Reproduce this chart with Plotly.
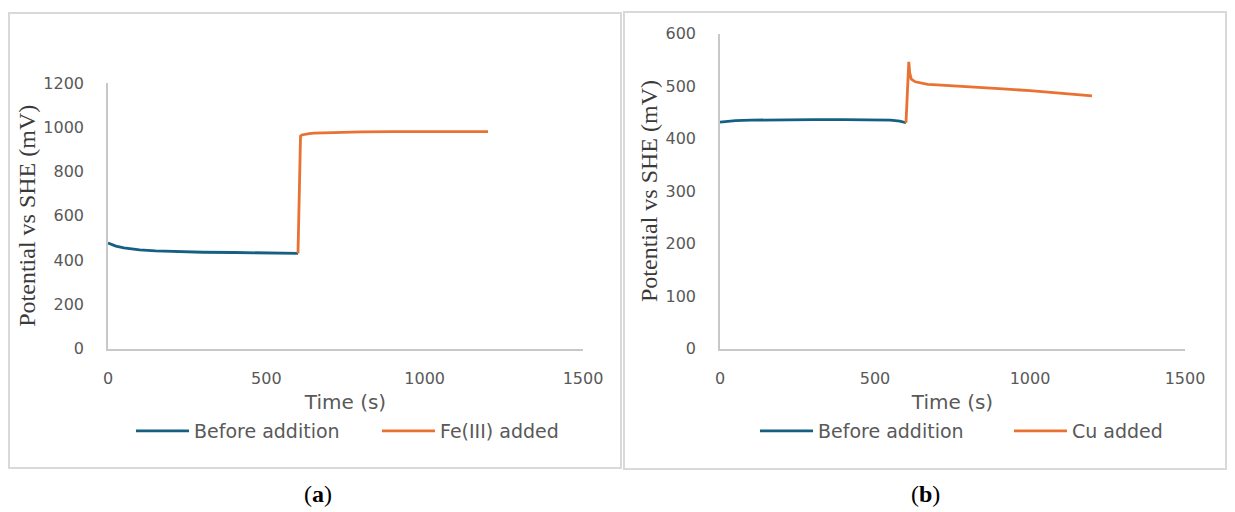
import plotly.graph_objects as go

# ---- data ----
# Panel (a): Fe(III)
a_before_t = [0, 10, 25, 50, 75, 100, 150, 200, 300, 400, 500, 560, 600]
a_before_v = [477, 471, 463, 455, 450, 446, 441, 438, 435, 434, 433, 432, 430]
a_after_t = [600, 603, 606, 608, 612, 620, 635, 650, 700, 800, 900, 1000, 1100, 1200]
a_after_v = [430, 600, 850, 960, 965, 968, 971, 973, 976, 979, 980, 980, 980, 980]

# Panel (b): Cu
b_before_t = [0, 25, 50, 100, 200, 300, 400, 500, 550, 580, 600]
b_before_v = [431, 433, 434, 435, 436, 436, 436, 436, 435, 433, 430]
b_after_t = [600, 603, 606, 609, 612, 617, 630, 650, 670, 700, 800, 900, 1000, 1100, 1200]
b_after_v = [430, 480, 530, 546, 525, 513, 508, 505, 503, 502, 499, 495, 491, 486, 481]

x_ticks = [0, 500, 1000, 1500]
a_y_ticks = [0, 200, 400, 600, 800, 1000, 1200]
b_y_ticks = [0, 100, 200, 300, 400, 500, 600]

BLUE = "#156082"
ORANGE = "#E97132"
W, H = 1235, 512


def px_x(p):
    return p / W


def px_y(p):
    return 1 - p / H


fig = go.Figure()
fig.add_trace(go.Scatter(x=a_before_t, y=a_before_v, mode="lines", name="Before addition",
                         line=dict(color=BLUE, width=2.8), xaxis="x", yaxis="y", legend="legend"))
fig.add_trace(go.Scatter(x=a_after_t, y=a_after_v, mode="lines", name="Fe(III) added",
                         line=dict(color=ORANGE, width=2.8), xaxis="x", yaxis="y", legend="legend2"))
fig.add_trace(go.Scatter(x=b_before_t, y=b_before_v, mode="lines", name="Before addition",
                         line=dict(color=BLUE, width=2.8), xaxis="x2", yaxis="y2", legend="legend3"))
fig.add_trace(go.Scatter(x=b_after_t, y=b_after_v, mode="lines", name="Cu added",
                         line=dict(color=ORANGE, width=2.8), xaxis="x2", yaxis="y2", legend="legend4"))

tick_font = dict(family="DejaVu Sans", size=16, color="#595959")
xtitle_font = dict(family="DejaVu Sans", size=20, color="#595959")
ytitle_font = dict(family="Liberation Serif", size=24, color="#3a3a3a")
legend_font = dict(family="DejaVu Sans", size=19, color="#595959")
axis_common = dict(showgrid=False, zeroline=False, showline=True, linecolor="#c8c8c8",
                   linewidth=1.5, ticks="", tickfont=tick_font, fixedrange=True,
                   automargin=False)


def legend_at(x_px):
    return dict(orientation="h", x=px_x(x_px), y=px_y(431), xanchor="left", yanchor="middle",
                font=legend_font, itemwidth=53, bgcolor="rgba(0,0,0,0)")


fig.update_layout(
    width=W, height=H, margin=dict(l=0, r=0, t=0, b=0, autoexpand=False),
    paper_bgcolor="white", plot_bgcolor="white",
    xaxis=dict(domain=[px_x(108), px_x(583)], range=[0, 1500], tickvals=x_ticks,
               anchor="y", ticklabelstandoff=15,
               title=dict(text="Time (s)", font=xtitle_font, standoff=8), **axis_common),
    yaxis=dict(domain=[px_y(348.5), px_y(83)], range=[0, 1200], tickvals=a_y_ticks,
               anchor="x", ticklabelstandoff=19,
               title=dict(text="Potential vs SHE (mV)", font=ytitle_font, standoff=1), **axis_common),
    xaxis2=dict(domain=[px_x(720), px_x(1185)], range=[0, 1500], tickvals=x_ticks,
                anchor="y2", ticklabelstandoff=15,
                title=dict(text="Time (s)", font=xtitle_font, standoff=8), **axis_common),
    yaxis2=dict(domain=[px_y(348.5), px_y(33.5)], range=[0, 600], tickvals=b_y_ticks,
                anchor="x2", ticklabelstandoff=19,
                title=dict(text="Potential vs SHE (mV)", font=ytitle_font, standoff=1), **axis_common),
    legend=legend_at(131),
    legend2=legend_at(377),
    legend3=legend_at(755),
    legend4=legend_at(1009),
    showlegend=True,
)

# panel frames
fig.add_shape(type="rect", xref="paper", yref="paper",
              x0=px_x(9), x1=px_x(621), y0=px_y(468), y1=px_y(13),
              line=dict(color="#d9d9d9", width=2), layer="below")
fig.add_shape(type="rect", xref="paper", yref="paper",
              x0=px_x(624), x1=px_x(1226), y0=px_y(469), y1=px_y(12),
              line=dict(color="#d9d9d9", width=2), layer="below")

# captions
for label, cx in (("a", 318), ("b", 926)):
    fig.add_annotation(text=f"(<b>{label}</b>)", x=px_x(cx), y=px_y(494), xref="paper", yref="paper",
                       showarrow=False, xanchor="center", yanchor="middle",
                       font=dict(family="Liberation Serif", size=24, color="black"))

fig.write_html("out.html")
